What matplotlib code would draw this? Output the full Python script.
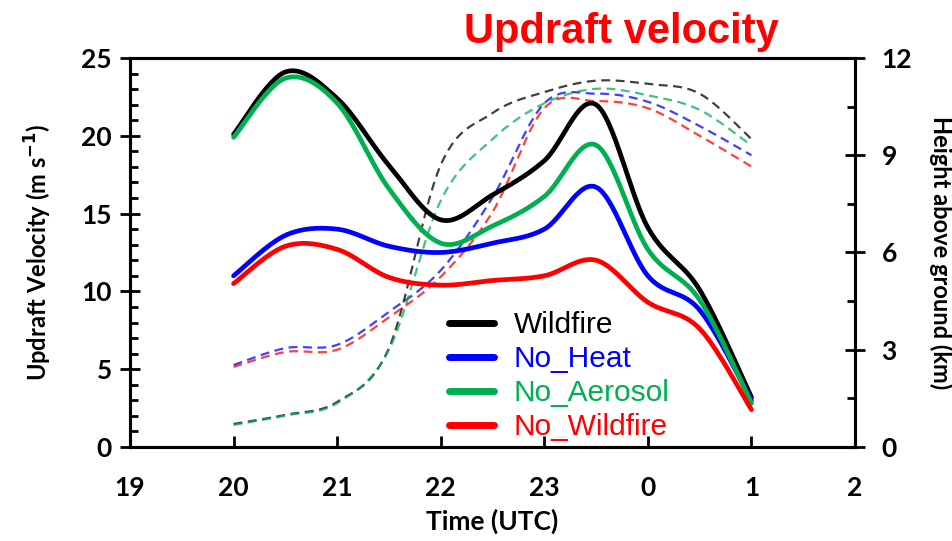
import numpy as np
import matplotlib
matplotlib.use('Agg')
import matplotlib.pyplot as plt
from matplotlib.ticker import MultipleLocator

# Time axis (hours UTC, continuing past midnight as 24, 25, ...)
hours = [20, 20.5, 21, 21.5, 22, 22.5, 23, 23.5, 24, 24.5, 25]
tick_pos = [19, 20, 21, 22, 23, 24, 25, 26]
tick_labels = ['19', '20', '21', '22', '23', '0', '1', '2']

# Updraft velocity (m s-1)
w_wildfire = [20.1, 24.1, 22.4, 18.1, 14.6, 16.2, 18.4, 22.0, 14.1, 10.1, 3.2]
w_no_heat = [11.0, 13.6, 14.0, 12.9, 12.5, 13.1, 14.0, 16.7, 11.0, 8.8, 3.0]
w_no_aerosol = [19.9, 23.7, 22.1, 16.6, 13.1, 14.2, 16.1, 19.4, 12.7, 9.45, 2.8]
w_no_wildfire = [10.5, 12.9, 12.7, 10.9, 10.4, 10.7, 11.0, 12.0, 9.3, 7.6, 2.4]

# Height of the updraft maximum above ground (km)
h_wildfire = [0.71, 0.99, 1.39, 3.05, 8.7, 10.3, 10.95, 11.3, 11.2, 10.9, 9.5]
h_no_heat = [2.53, 3.05, 3.15, 4.17, 5.45, 7.7, 10.6, 10.9, 10.65, 9.9, 9.0]
h_no_aerosol = [0.68, 0.97, 1.35, 3.0, 7.6, 9.5, 10.6, 11.05, 10.85, 10.4, 9.3]
h_no_wildfire = [2.47, 2.93, 3.0, 4.0, 5.25, 7.25, 10.45, 10.67, 10.45, 9.6, 8.65]

names = ['Wildfire', 'No_Heat', 'No_Aerosol', 'No_Wildfire']
colors = ['#000000', '#0000ff', '#00b050', '#ff0000']


def smooth(x, y, n=30):
    # Catmull-Rom style bezier smoothing, like a spreadsheet "smoothed line"
    p = np.column_stack([x, y]).astype(float)
    p = np.vstack([p[0], p, p[-1]])
    xs, ys = [], []
    t = np.linspace(0, 1, n)
    for i in range(1, len(p) - 2):
        p0, p1, p2, p3 = p[i - 1], p[i], p[i + 1], p[i + 2]
        c1 = p1 + (p2 - p0) / 6
        c2 = p2 - (p3 - p1) / 6
        seg = ((1 - t) ** 3)[:, None] * p1 + (3 * (1 - t) ** 2 * t)[:, None] * c1 \
            + (3 * (1 - t) * t ** 2)[:, None] * c2 + (t ** 3)[:, None] * p2
        xs.append(seg[:, 0])
        ys.append(seg[:, 1])
    return np.concatenate(xs), np.concatenate(ys)


plt.rcParams['font.family'] = ['Lato', 'DejaVu Sans']
plt.rcParams['font.weight'] = 'bold'

fig = plt.figure(figsize=(9.53, 5.41), dpi=100)
ax = fig.add_axes([0.1364, 0.1738, 0.7608, 0.719])
ax2 = ax.twinx()

for y, c in zip([h_wildfire, h_no_heat, h_no_aerosol, h_no_wildfire], colors):
    sx, sy = smooth(hours, y)
    ax2.plot(sx, sy, color=c, lw=1.6, ls=(0, (4, 2.5)), alpha=0.75)

for y, c, nm in zip([w_wildfire, w_no_heat, w_no_aerosol, w_no_wildfire], colors, names):
    sx, sy = smooth(hours, y)
    ax.plot(sx, sy, color=c, lw=3.4, label=nm, solid_capstyle='round')

ax.set_zorder(ax2.get_zorder() + 1)
ax.patch.set_visible(False)

ax.set_xlim(19, 26)
ax.set_ylim(0, 25)
ax2.set_ylim(0, 12)
ax.set_xticks(tick_pos)
ax.set_xticklabels(tick_labels)
ax.yaxis.set_major_locator(MultipleLocator(5))
ax.yaxis.set_minor_locator(MultipleLocator(1))
ax2.yaxis.set_major_locator(MultipleLocator(3))
ax2.yaxis.set_minor_locator(MultipleLocator(1.5))

for a in (ax, ax2):
    for s in a.spines.values():
        s.set_linewidth(2.2)

ax.tick_params(axis='x', direction='in', length=8, width=2, pad=21, labelsize=19, top=False)
ax.tick_params(axis='y', which='major', direction='inout', length=14, width=2, pad=6, labelsize=19)
ax.tick_params(axis='y', which='minor', direction='in', length=6, width=2)
ax2.tick_params(axis='y', which='major', direction='inout', length=14, width=2, pad=12, labelsize=19)
ax2.tick_params(axis='y', which='minor', direction='in', length=6, width=2)

ax.set_xlabel('Time (UTC)', fontsize=19, fontweight='bold', labelpad=6)
ax.set_ylabel('Updraft Velocity (m s$^{\\mathbf{-1}}$)', fontsize=17, fontweight='bold', labelpad=20)
ax2.set_ylabel('Height above ground (km)', fontsize=17, fontweight='bold', rotation=-90, labelpad=29)

leg = ax.legend(loc='upper left', bbox_to_anchor=(0.424, 0.38), frameon=False,
                prop={'family': 'Liberation Sans', 'size': 21.5, 'weight': 'normal'},
                handlelength=1.5, handletextpad=0.65, labelspacing=0.2, borderaxespad=0)
for txt, c in zip(leg.get_texts(), colors):
    txt.set_color(c)
for line in leg.get_lines():
    line.set_linewidth(5)

fig.text(0.652, 0.92, 'Updraft velocity', color='#ff0000', fontsize=30,
         fontweight='bold', family='Liberation Sans', ha='center', va='baseline')

fig.savefig('out.png', dpi=100)
